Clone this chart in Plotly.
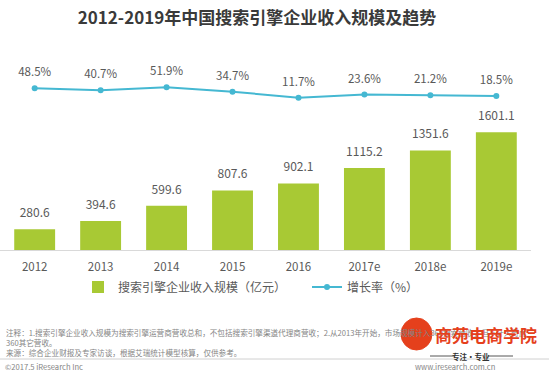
import plotly.graph_objects as go

years = ["2012", "2013", "2014", "2015", "2016", "2017e", "2018e", "2019e"]
revenue = [280.6, 394.6, 599.6, 807.6, 902.1, 1115.2, 1351.6, 1601.1]
growth = [48.5, 40.7, 51.9, 34.7, 11.7, 23.6, 21.2, 18.5]

title_text = "2012-2019年中国搜索引擎企业收入规模及趋势"
bar_name = "搜索引擎企业收入规模（亿元）"
line_name = "增长率（%）"
note1 = "注释：1.搜索引擎企业收入规模为搜索引擎运营商营收总和，不包括搜索引擎渠道代理商营收；2.从2013年开始，市场规模计入360搜索营收，但不计入奇虎"
note2 = "360其它营收。"
source = "来源：综合企业财报及专家访谈，根据艾瑞统计模型核算，仅供参考。"
copyright_text = "©2017.5 iResearch Inc"
site_text = "www.iresearch.com.cn"
logo_text = "商苑电商学院"
logo_sub = "专注·专业"

FONT = "Noto Sans CJK SC, Noto Sans, sans-serif"
GREEN = "#a8c934"
BLUE = "#45b8d2"
GRAY = "#595959"

W, H = 549, 372
ML, MR, MT, MB = 0, 18, 60, 122
PW, PH = W - ML - MR, H - MT - MB


def py(ypx):
    return (H - MB - ypx) / PH


def px(xpx):
    return (xpx - ML) / PW


fig = go.Figure()
fig.add_trace(go.Bar(
    x=years, y=revenue, name=bar_name, marker=dict(color=GREEN, line=dict(width=0)),
    hoverinfo="x+y",
))
fig.add_trace(go.Scatter(
    x=years, y=revenue, mode="markers+text", text=[f"{v:.1f}" for v in revenue],
    textposition="top center", textfont=dict(size=12, color=GRAY, family=FONT),
    marker=dict(size=13, opacity=0), showlegend=False, hoverinfo="skip",
))
fig.add_trace(go.Scatter(
    x=years, y=growth, name=line_name, mode="lines+markers", yaxis="y2",
    line=dict(color=BLUE, width=2), marker=dict(color=BLUE, size=6),
))
fig.add_trace(go.Scatter(
    x=years, y=growth, mode="markers+text", yaxis="y2",
    text=[f"{v:.1f}%" for v in growth], textposition="top center",
    textfont=dict(size=11.5, color=GRAY, family=FONT),
    marker=dict(size=13, opacity=0), showlegend=False, hoverinfo="skip",
))

ann = []
def note(x, y, text, size=7.6, color="#858585", anchor="left"):
    ann.append(dict(xref="paper", yref="paper", x=x, y=y, text=text, showarrow=False,
                    xanchor=anchor, yanchor="middle", align="left",
                    font=dict(size=size, color=color, family=FONT)))

note(px(4), py(337.2), note1 + "<br>" + note2)
note(px(4), py(352), source)
note(px(3), py(366), copyright_text)
note(px(497), py(366), site_text, anchor="right")
note(px(486), py(334), f"<b>{logo_text}</b>", size=17, color="#e5401c", anchor="center")
note(px(471), py(356), f"<b>{logo_sub}</b>", size=7.5, color="#333333", anchor="center")

shapes = [
    dict(type="line", xref="paper", yref="paper", x0=px(0), x1=px(549), y0=py(359), y1=py(359),
         line=dict(color="#d0d0d0", width=1)),
    dict(type="circle", xref="paper", yref="paper", x0=px(401), x1=px(432), y0=py(350), y1=py(318),
         fillcolor="#e5401c", line=dict(color="#e5401c", width=1)),
    dict(type="line", xref="paper", yref="paper", x0=px(430), x1=px(455), y0=py(356), y1=py(356),
         line=dict(color="#555555", width=1)),
    dict(type="line", xref="paper", yref="paper", x0=px(488), x1=px(513), y0=py(356), y1=py(356),
         line=dict(color="#555555", width=1)),
]

fig.update_layout(
    width=W, height=H,
    margin=dict(l=ML, r=MR, t=MT, b=MB, pad=0, autoexpand=False),
    paper_bgcolor="white", plot_bgcolor="white",
    font=dict(family=FONT, color=GRAY, size=12),
    title=dict(text=f"<b>{title_text}</b>", xref="container", yref="container",
               x=257 / W, y=1 - 18 / H, xanchor="center", yanchor="middle",
               font=dict(size=17, color="#3a3a3a", family=FONT)),
    bargap=0.38,
    xaxis=dict(showgrid=False, showline=True, linecolor="#d9d9d9", linewidth=1,
               ticks="", tickfont=dict(size=11.5, color=GRAY), ticklabelstandoff=6),
    yaxis=dict(range=[0, 2581], visible=False, showgrid=False, zeroline=False),
    yaxis2=dict(range=[-576.4, 157.1], overlaying="y", side="right", visible=False,
                showgrid=False, zeroline=False),
    legend=dict(orientation="h", xref="container", yref="container",
                x=78 / W, y=1 - 287 / H, xanchor="left", yanchor="middle",
                font=dict(size=12, color=GRAY, family=FONT), entrywidth=184,
                entrywidthmode="pixels", bgcolor="rgba(0,0,0,0)"),
    annotations=ann,
    shapes=shapes,
    showlegend=True,
)

fig.write_html("out.html", config={"displayModeBar": False},
               post_script="document.body.style.margin='0';document.body.style.overflow='hidden';")
